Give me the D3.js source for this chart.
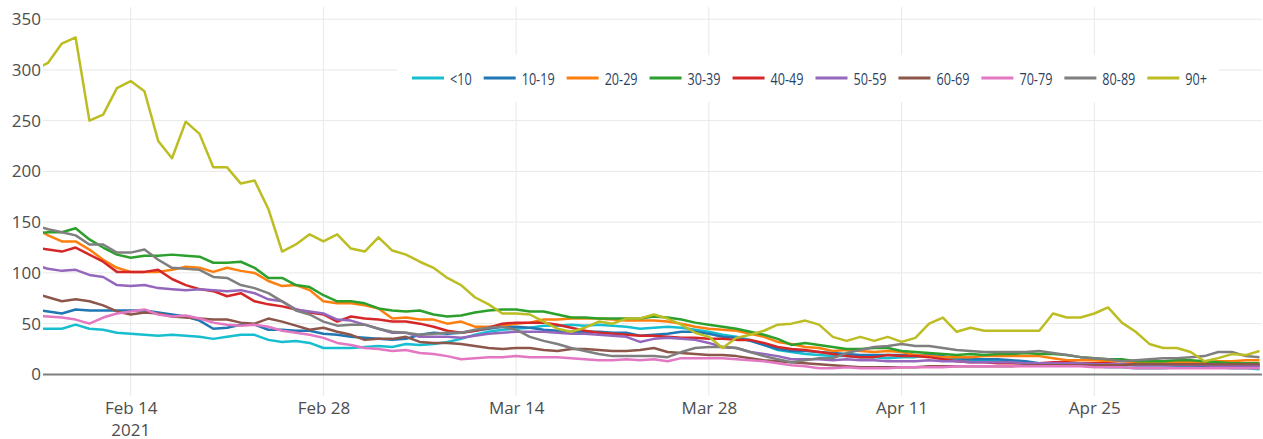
<!DOCTYPE html>
<html>
<head>
<meta charset="utf-8">
<script src="https://cdn.jsdelivr.net/npm/d3@7"></script>
<style>
  body { margin: 0; background: #fff; }
  svg { display: block; }
</style>
</head>
<body>
<div id="chart"></div>
<script>
// daily values, one per day starting Feb 7 2021
var firstDay = "2021-02-07";

var groups = ["<10", "10-19", "20-29", "30-39", "40-49", "50-59", "60-69", "70-79", "80-89", "90+"];
var colors = ["#17becf", "#1f77b4", "#ff7f0e", "#2ca02c", "#d62728", "#9467bd", "#8c564b", "#e377c2", "#7f7f7f", "#bcbd22"];

var age0 = [45,45,45,49,45,44,41,40,39,38, 39,38,37,35,37,39,39,34,32,33, 31,26,26,26,27,28,27,30,29,30,
            32,35,39,42,44,45,46,48,48,49, 48,49,48,47,45,46,47,46,44,42, 39,37,34,29,24,22,20,19,18,18,
            17,17,16,17,17,19,17,14,14,13, 14,12,11,10,10,9,9,8,7,7, 6,6,6,7,7,8,7,6,6,5];
var age10 = [64,62,60,64,63,63,63,63,63,61, 59,57,53,45,46,49,49,44,44,43, 43,40,39,37,36,35,34,35,39,41,
             40,41,43,45,47,47,46,44,43,42, 42,42,41,41,38,39,40,42,42,40, 37,36,33,29,25,23,23,22,21,20,
             19,19,19,19,19,19,18,16,15,15, 15,14,13,11,11,11,11,11,10,10, 9,9,9,9,9,8,8,8,8,8];
var age20 = [145,137,131,131,123,113,105,101,101,101, 103,106,105,101,105,102,100,92,87,88, 83,72,70,70,68,65,55,56,54,54,
             50,52,47,47,48,50,51,54,54,55, 55,55,54,53,53,53,52,50,47,45, 44,43,40,37,32,30,27,26,23,24,
             23,22,23,22,19,18,17,17,17,18, 18,18,18,18,16,14,14,14,13,13, 12,12,12,12,12,12,13,13,14,14];
var age30 = [139,140,140,144,133,125,118,115,117,117, 118,117,116,110,110,111,105,95,95,88, 86,78,72,72,70,65,63,62,63,59,
             57,58,61,63,64,64,62,62,59,56, 56,55,55,55,55,57,56,54,51,49, 47,45,42,39,35,29,31,29,27,25,
             25,26,26,23,22,21,20,19,20,19, 20,20,21,20,20,19,17,16,15,15, 13,13,13,14,14,13,12,11,11,11];
var age40 = [125,123,121,125,118,111,101,101,101,103, 94,88,84,82,77,80,72,69,67,64, 61,59,52,57,55,54,52,52,50,47,
             43,41,43,46,50,51,51,51,49,46, 43,41,40,39,38,38,37,36,36,35, 35,34,34,31,27,25,24,22,20,18,
             17,17,19,18,18,17,15,13,12,12, 11,11,11,11,12,12,11,11,11,10, 10,10,10,10,10,10,9,9,9,9];
var age50 = [108,104,102,103,98,96,88,87,88,85, 84,83,84,83,82,83,80,74,72,64, 62,60,54,53,49,45,41,41,37,37,
             37,36,38,40,41,42,42,42,41,40, 40,39,38,37,32,35,36,35,34,31, 27,26,22,20,18,15,15,15,14,15,
             14,14,13,13,13,14,13,13,12,12, 12,12,11,11,11,11,11,10,10,10, 9,9,9,9,9,9,8,8,8,8];
var age60 = [80,76,72,74,72,68,62,59,61,60, 57,56,55,54,54,51,50,55,52,48, 44,46,42,39,34,35,35,37,32,31,
             31,30,28,26,25,26,26,24,23,25, 25,24,23,23,24,26,22,21,20,19, 19,18,16,14,13,12,11,10,9,8,
             7,7,7,7,7,8,8,8,8,8, 8,8,9,9,9,9,9,9,9,9, 10,10,10,10,10,10,10,10,10,10];
var age70 = [58,57,56,54,50,56,60,62,64,59, 57,58,55,51,49,48,49,47,43,41, 39,36,31,29,26,25,23,24,21,20,
             18,15,16,17,17,18,17,17,17,16, 15,14,14,15,14,15,13,16,16,16, 16,15,14,13,11,9,8,6,6,7,
             6,6,6,7,7,7,7,8,8,8, 8,8,8,8,8,8,8,7,7,7, 6,6,6,6,6,6,6,6,6,6];
var age80 = [147,143,140,137,128,128,120,120,123,113, 105,104,103,96,95,88,85,80,72,63, 59,52,48,49,49,45,42,41,39,40,
             41,41,44,46,47,44,37,33,30,26, 23,20,18,18,18,18,17,22,26,27, 27,26,22,18,15,12,14,16,16,21,
             24,27,28,30,28,28,26,24,23,22, 22,22,22,23,21,19,17,16,15,13, 14,15,16,16,17,18,22,22,18,17];
var age90 = [300,307,326,332,250,256,282,289,279,230, 213,249,237,204,204,188,191,163,121,128, 138,131,138,124,121,135,122,118,111,105,
             95,88,76,69,60,60,59,52,45,42, 46,52,50,55,55,59,55,49,41,37, 26,36,39,43,49,50,53,49,37,33,
             37,33,37,32,36,50,56,42,46,43, 43,43,43,43,60,56,56,60,66,51, 42,30,26,26,22,13,16,20,19,23];

var seriesValues = [age0, age10, age20, age30, age40, age50, age60, age70, age80, age90];

var yTicks = [0, 50, 100, 150, 200, 250, 300, 350];
var xTicks = ["2021-02-14", "2021-02-28", "2021-03-14", "2021-03-28", "2021-04-11", "2021-04-25"];

var width = 1263, height = 439;
var plotLeft = 43, plotRight = 1262, plotTop = 7, plotBottom = 396;

var parseDay = d3.utcParse("%Y-%m-%d");
var day0 = parseDay(firstDay);
var dayMs = 864e5;

var x = d3.scaleUtc()
    .domain([new Date(parseDay("2021-02-14") - 6.37 * dayMs), new Date(+parseDay("2021-02-14") + 82.18 * dayMs)])
    .range([plotLeft, plotRight]);

var y = d3.scaleLinear()
    .domain([-21.3, 362])
    .range([plotBottom, plotTop]);

var svg = d3.select("#chart").append("svg")
    .attr("width", width)
    .attr("height", height);

svg.append("defs").append("clipPath").attr("id", "plotclip")
  .append("rect")
    .attr("x", plotLeft).attr("y", plotTop)
    .attr("width", plotRight - plotLeft).attr("height", plotBottom - plotTop);

// grid
var grid = svg.append("g");
grid.selectAll(".vgrid")
    .data(xTicks.map(parseDay))
    .enter().append("line")
    .attr("x1", function(d) { return x(d); })
    .attr("x2", function(d) { return x(d); })
    .attr("y1", plotTop).attr("y2", plotBottom)
    .style("stroke", "#e8e8e8").style("stroke-width", 1);

grid.selectAll(".hgrid")
    .data(yTicks.filter(function(d) { return d !== 0; }))
    .enter().append("line")
    .attr("x1", plotLeft).attr("x2", plotRight)
    .attr("y1", function(d) { return y(d); })
    .attr("y2", function(d) { return y(d); })
    .style("stroke", "#e8e8e8").style("stroke-width", 1);

// x axis labels
var xAxis = d3.axisBottom(x)
    .tickValues(xTicks.map(parseDay))
    .tickSize(0)
    .tickPadding(0)
    .tickFormat(d3.utcFormat("%b %-d"));

var xg = svg.append("g")
    .attr("transform", "translate(0," + plotBottom + ")")
    .call(xAxis);
xg.select(".domain").remove();
xg.selectAll("text")
    .attr("y", 18)
    .attr("dy", 0)
    .style("font-family", "'Open Sans', sans-serif")
    .style("font-size", "17px")
    .style("fill", "#4d4d4d");

svg.append("text")
    .attr("x", x(parseDay(xTicks[0])))
    .attr("y", plotBottom + 40)
    .attr("text-anchor", "middle")
    .style("font-family", "'Open Sans', sans-serif")
    .style("font-size", "17px")
    .style("fill", "#4d4d4d")
    .text("2021");

// y axis labels
var yAxis = d3.axisLeft(y)
    .tickValues(yTicks)
    .tickSize(0)
    .tickPadding(2);

var yg = svg.append("g")
    .attr("transform", "translate(" + plotLeft + ",0)")
    .call(yAxis);
yg.select(".domain").remove();
yg.selectAll("text")
    .style("font-family", "'Open Sans', sans-serif")
    .style("font-size", "17px")
    .style("fill", "#4d4d4d");

// lines
var dates = age0.map(function(v, i) { return new Date(+day0 + i * dayMs); });

var line = d3.line()
    .x(function(d, i) { return x(dates[i]); })
    .y(function(d) { return y(d); });

var lines = svg.append("g").attr("clip-path", "url(#plotclip)");

// zero line
lines.append("line")
    .attr("x1", plotLeft).attr("x2", plotRight)
    .attr("y1", y(0)).attr("y2", y(0))
    .style("stroke", "#7f7f7f").style("stroke-width", 2);

lines.selectAll(".series")
    .data(seriesValues)
    .enter().append("path")
    .attr("class", "series")
    .attr("d", line)
    .style("fill", "none")
    .style("stroke", function(d, i) { return colors[i]; })
    .style("stroke-width", 2.5)
    .style("stroke-linejoin", "round");

// legend (narrow text, squeezed horizontally)
var legend = svg.append("g");
var legendBg = legend.append("rect").style("fill", "#fff");
var legendY = 78, legendX = 412, squeeze = 0.79;

var items = legend.selectAll(".item")
    .data(groups)
    .enter().append("g")
    .attr("class", "item");

items.append("line")
    .attr("x1", 0).attr("x2", 32)
    .attr("y1", 0).attr("y2", 0)
    .style("stroke", function(d, i) { return colors[i]; })
    .style("stroke-width", 3);

items.append("text")
    .attr("transform", "translate(38,6.5) scale(" + squeeze + ",1)")
    .style("font-family", "'Open Sans', sans-serif")
    .style("font-size", "16px")
    .style("fill", "#2a3f5f")
    .text(function(d) { return d; });

var pos = legendX;
items.each(function() {
  var g = d3.select(this);
  g.attr("transform", "translate(" + pos + "," + legendY + ")");
  pos += 38 + g.select("text").node().getComputedTextLength() * squeeze + 12;
});

legendBg
    .attr("x", legendX - 15)
    .attr("y", legendY - 23)
    .attr("width", pos - legendX + 15)
    .attr("height", 47);
</script>
</body>
</html>
